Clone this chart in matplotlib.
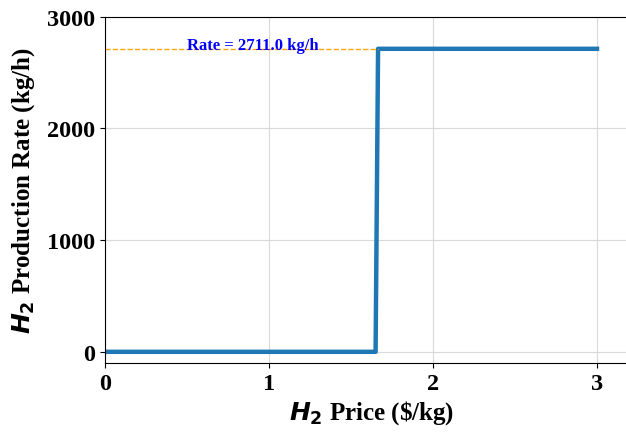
import matplotlib
matplotlib.use("Agg")
import matplotlib.pyplot as plt

# H2 price sweep and resulting production rate
price = [0.0, 1.65, 1.665, 3.0]
rate = [0, 0, 2711.0, 2711.0]
max_rate = 2711.0
switch_price = 1.665

plt.rcParams['font.family'] = ['Liberation Serif', 'DejaVu Sans']
plt.rcParams['mathtext.fontset'] = 'custom'
plt.rcParams['mathtext.it'] = 'DejaVu Sans:italic:bold'
plt.rcParams['mathtext.rm'] = 'DejaVu Sans:bold'

fig = plt.figure(figsize=(6.26, 4.35), dpi=100)
ax = fig.add_axes([105 / 626, 1 - 364 / 435, 533 / 626, (364 - 17.5) / 435])

ax.plot(price, rate, color='#1f77b4', linewidth=3.2)
ax.hlines(max_rate, 0, switch_price, colors='orange', linestyles='--', linewidth=1)
ax.text(0.5, max_rate, f'Rate = {max_rate:.1f} kg/h', color='blue', fontsize=12,
        fontweight='bold', va='baseline', ha='left')

ax.set_xlim(0, 3.25)
ax.set_ylim(-100, 3000)
ax.set_xticks([0, 1, 2, 3])
ax.set_yticks([0, 1000, 2000, 3000])
ax.grid(True, color='#d9d9d9', linewidth=0.8)
ax.set_axisbelow(True)

ax.set_xlabel(r'$H_2$ Price (\$/kg)', fontsize=18, fontweight='bold', labelpad=3)
ax.set_ylabel(r'$H_2$ Production Rate (kg/h)', fontsize=18, fontweight='bold', labelpad=7)
for lab in ax.get_xticklabels() + ax.get_yticklabels():
    lab.set_fontweight('bold')
    lab.set_fontsize(17.5)

plt.savefig('out.png', dpi=100)
